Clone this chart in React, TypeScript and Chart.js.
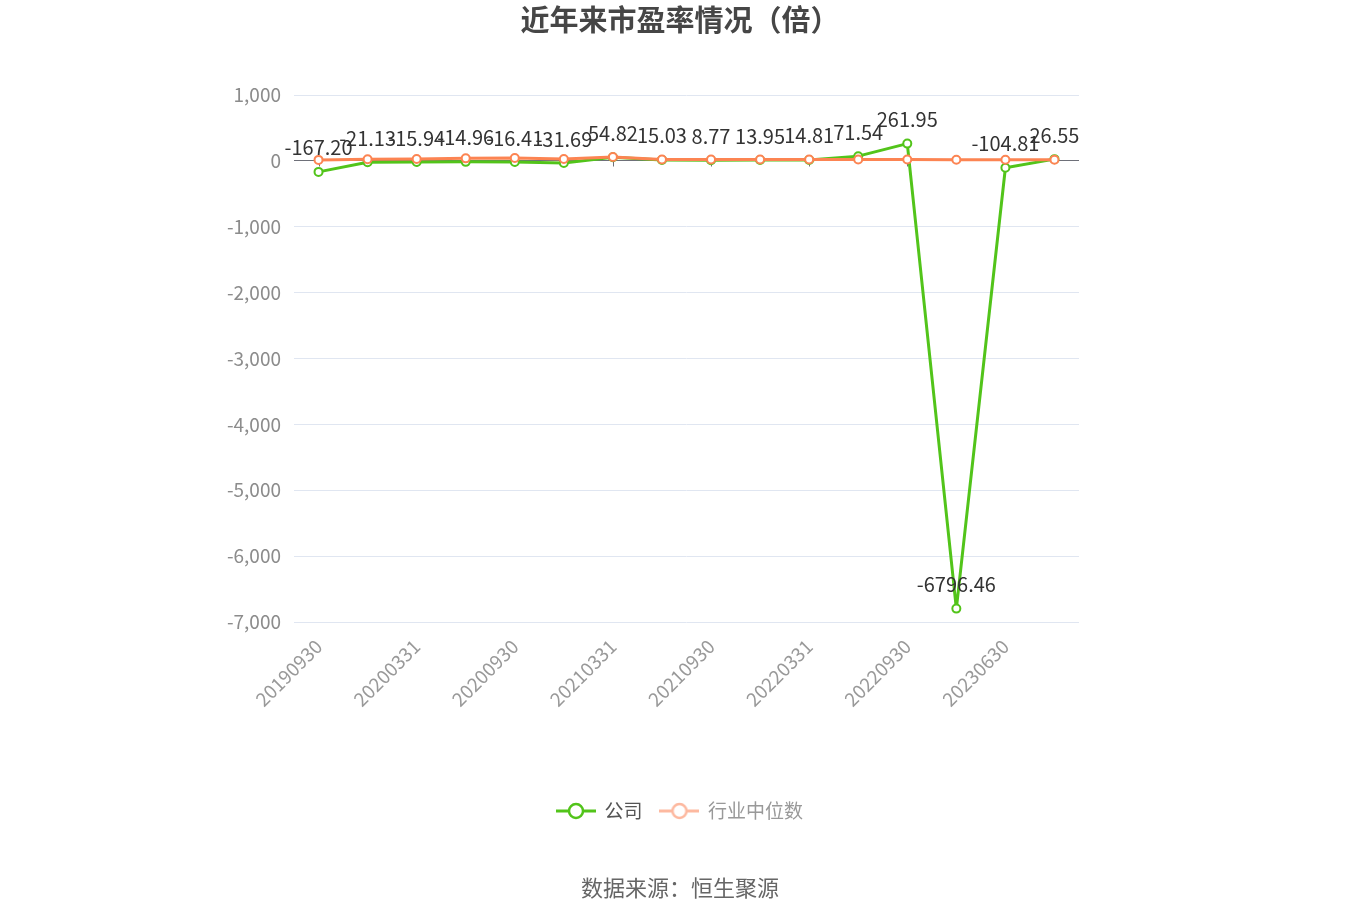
import React, { useEffect, useRef } from "react";
import { Chart, registerables } from "chart.js";

Chart.register(...registerables);

const categories: string[] = [
  "20190930", "20191231", "20200331", "20200630", "20200930", "20201231",
  "20210331", "20210630", "20210930", "20211231", "20220331", "20220630",
  "20220930", "20221231", "20230630", "20230930",
];

const companyPE: number[] = [
  -167.2, -21.13, -15.94, -14.96, -16.41, -31.69, 54.82, 15.03, 8.77, 13.95,
  14.81, 71.54, 261.95, -6796.46, -104.81, 26.55,
];

const industryPE: number[] = [
  15, 26, 28, 38, 45, 28, 58, 20, 22, 20, 20, 22, 20, 18, 18, 16,
];

const seriesNames: string[] = ["公司", "行业中位数"];
const yTickMin = -7000;
const yTickMax = 1000;
const yTickStep = 1000;

const FONT = '"Noto Sans CJK SC", "Noto Sans", sans-serif';
const GREEN = "#52C41A";
const ORANGE = "#FC8452";

function makeIcon(color: string): HTMLCanvasElement {
  const c = document.createElement("canvas");
  c.width = 40;
  c.height = 20;
  const g = c.getContext("2d")!;
  g.strokeStyle = color;
  g.lineWidth = 3;
  g.beginPath();
  g.moveTo(0, 10);
  g.lineTo(40, 10);
  g.stroke();
  g.beginPath();
  g.arc(20, 10, 7, 0, Math.PI * 2);
  g.fillStyle = "#fff";
  g.fill();
  g.lineWidth = 2.5;
  g.stroke();
  return c;
}

export default function App() {
  const ref = useRef<HTMLCanvasElement | null>(null);

  useEffect(() => {
    if (!ref.current) return;
    const icons = [makeIcon(GREEN), makeIcon("#FDB9A0")];
    const legendTextColors = ["#555555", "#999999"];

    const labelPlugin = {
      id: "pointLabels",
      afterDatasetsDraw(chart: any) {
        const meta = chart.getDatasetMeta(0);
        const ctx = chart.ctx;
        ctx.save();
        ctx.font = `20px ${FONT}`;
        ctx.fillStyle = "#333333";
        ctx.textAlign = "center";
        ctx.textBaseline = "middle";
        meta.data.forEach((pt: any, i: number) => {
          ctx.fillText(companyPE[i].toFixed(2), pt.x, pt.y - 24);
        });
        ctx.restore();
      },
    };

    const zeroTicksPlugin = {
      id: "zeroTicks",
      beforeDatasetsDraw(chart: any) {
        const xs = chart.scales.x;
        const ys = chart.scales.y;
        const y0 = Math.round(ys.getPixelForValue(0)) + 0.5;
        const ctx = chart.ctx;
        ctx.save();
        ctx.strokeStyle = "#6E7079";
        ctx.lineWidth = 1;
        ctx.beginPath();
        for (let i = 0; i < categories.length; i += 2) {
          const x = Math.round(xs.getPixelForValue(i)) + 0.5;
          ctx.moveTo(x, y0);
          ctx.lineTo(x, y0 + 5);
        }
        ctx.stroke();
        ctx.restore();
      },
    };

    const chart = new Chart(ref.current, {
      type: "line",
      data: {
        labels: categories,
        datasets: [
          {
            label: seriesNames[0],
            data: companyPE,
            borderColor: GREEN,
            backgroundColor: "#ffffff",
            borderWidth: 3,
            borderJoinStyle: "round",
            pointRadius: 4,
            pointBorderWidth: 2,
            pointBackgroundColor: "#ffffff",
            pointBorderColor: GREEN,
            tension: 0,
            order: 1,
          },
          {
            label: seriesNames[1],
            data: industryPE,
            borderColor: ORANGE,
            backgroundColor: "#ffffff",
            borderWidth: 3,
            borderJoinStyle: "round",
            pointRadius: 4,
            pointBorderWidth: 2,
            pointBackgroundColor: "#ffffff",
            pointBorderColor: ORANGE,
            tension: 0,
            order: 0,
          },
        ],
      },
      options: {
        animation: false,
        responsive: true,
        maintainAspectRatio: false,
        layout: { padding: 0 },
        scales: {
          x: {
            offset: true,
            grid: { display: false },
            border: { display: false },
            ticks: {
              autoSkip: false,
              maxRotation: 45,
              minRotation: 45,
              padding: 5,
              color: "#999999",
              font: { size: 19, family: FONT },
              callback: function (this: any, val: any, idx: number) {
                return idx % 2 === 0 ? this.getLabelForValue(val) : "";
              },
            },
            afterFit: (scale: any) => {
              scale.height = 161.5;
            },
          },
          y: {
            min: yTickMin,
            max: yTickMax,
            border: { display: false },
            grid: {
              drawTicks: false,
              color: (c: any) => (c.tick && c.tick.value === 0 ? "#6E7079" : "#E0E6F1"),
              lineWidth: 1,
            },
            ticks: {
              stepSize: yTickStep,
              padding: 13,
              color: "#8C8C8C",
              font: { size: 19, family: FONT },
            },
            afterFit: (scale: any) => {
              scale.width = 294;
            },
          },
          yRight: {
            type: "linear",
            position: "right",
            display: true,
            grid: { display: false },
            border: { display: false },
            ticks: { display: false },
            afterFit: (scale: any) => {
              scale.width = 281;
            },
          },
        },
        plugins: {
          title: {
            display: true,
            text: "近年来市盈率情况（倍）",
            color: "#464646",
            font: { size: 29, weight: "bold", family: FONT },
            padding: { top: 3, bottom: 57.2 },
          },
          subtitle: {
            display: true,
            position: "bottom",
            text: "数据来源：恒生聚源",
            color: "#666666",
            font: { size: 22, family: FONT },
            padding: { top: 44.3, bottom: 18.8 },
          },
          legend: {
            display: true,
            position: "bottom",
            labels: {
              usePointStyle: true,
              pointStyleWidth: 38,
              padding: 18,
              font: { size: 19, family: FONT },
              generateLabels: (ch: any) => {
                const items = (Chart.defaults.plugins.legend.labels as any).generateLabels(ch);
                return items
                  .sort((a: any, b: any) => a.datasetIndex - b.datasetIndex)
                  .map((it: any) => ({
                    ...it,
                    pointStyle: icons[it.datasetIndex],
                    fontColor: legendTextColors[it.datasetIndex],
                    lineWidth: 0,
                  }));
              },
            },
          },
          tooltip: { enabled: false },
        },
      },
      plugins: [zeroTicksPlugin, labelPlugin],
    } as any);

    return () => chart.destroy();
  }, []);

  return (
    <div style={{ position: "absolute", left: 0, top: 0, width: 1360, height: 920 }}>
      <canvas ref={ref} />
    </div>
  );
}
